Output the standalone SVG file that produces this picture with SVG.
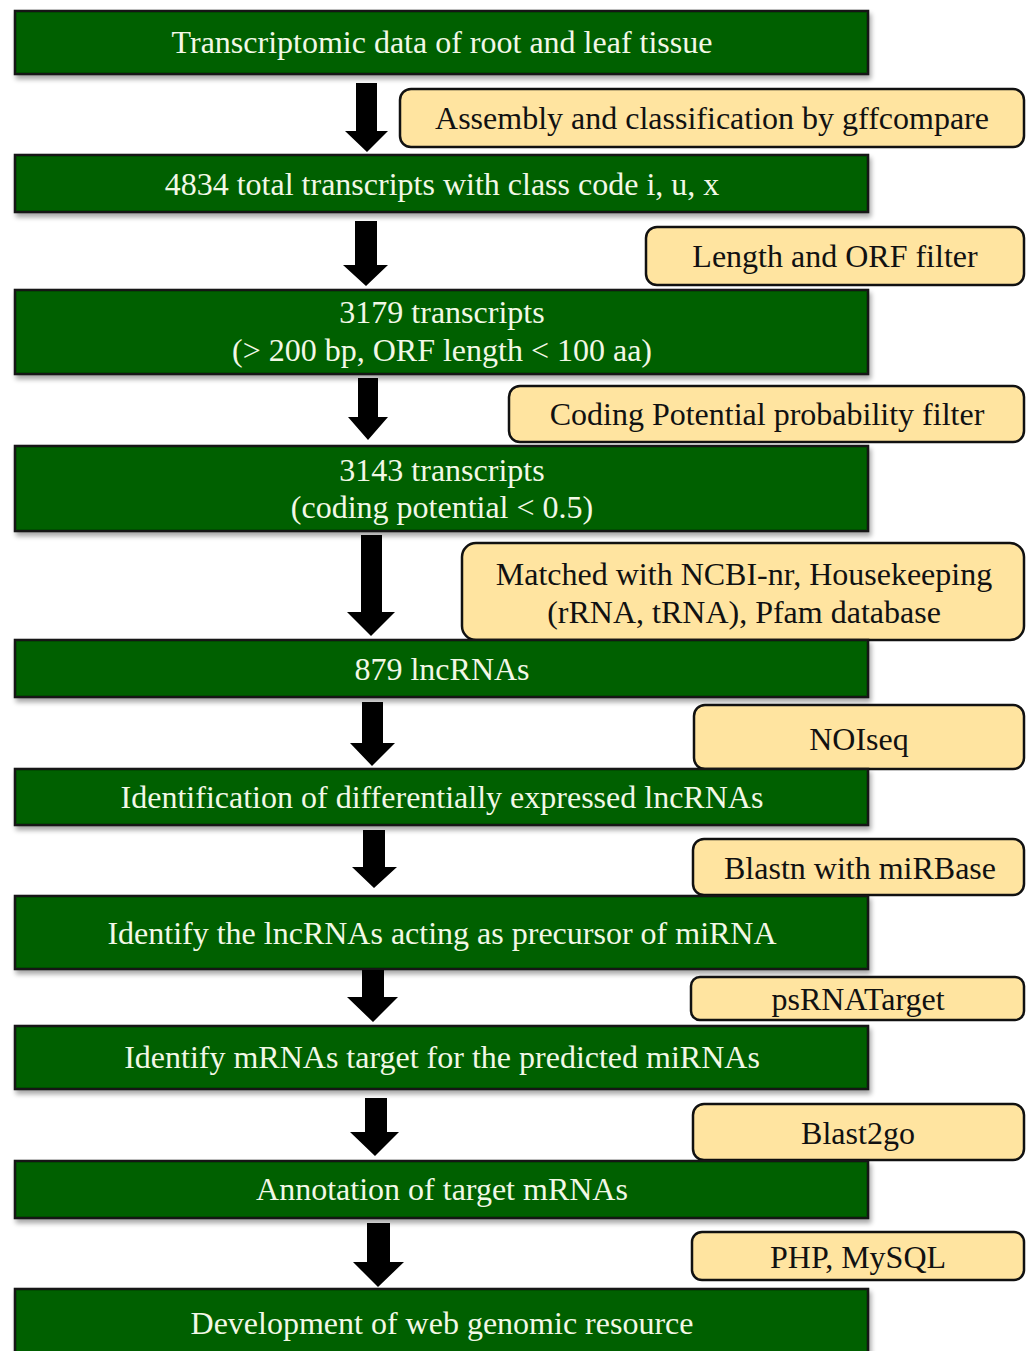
<svg xmlns="http://www.w3.org/2000/svg" width="1028" height="1351" viewBox="0 0 1028 1351">
<defs>
<style>
.g{fill:#006000;stroke:#141414;stroke-width:2.5;filter:url(#sh)}
.y{fill:#FFE4A0;stroke:#111;stroke-width:2.5}
.t{font-family:"Liberation Serif","Times New Roman",serif;font-size:32px;text-anchor:middle}
.tw{fill:#F2F8E6}
.tb{fill:#111}
.ar{fill:#000}
</style>
<filter id="sh" x="-5%" y="-20%" width="110%" height="150%">
<feGaussianBlur in="SourceAlpha" stdDeviation="2.5"/>
<feOffset dx="2" dy="4" result="b"/>
<feComponentTransfer><feFuncA type="linear" slope="0.35"/></feComponentTransfer>
<feMerge><feMergeNode/><feMergeNode in="SourceGraphic"/></feMerge>
</filter>
</defs>
<rect width="1028" height="1351" fill="#fff"/>

<g id="connectors">
<polygon class="ar" points="356,83 377,83 377,131 388,131 367,152 345,131 356,131"/>
<polygon class="ar" points="355,221 377,221 377,265 388,265 366,286 343,265 355,265"/>
<polygon class="ar" points="358,378 378,378 378,417 388,417 368,440 348,417 358,417"/>
<polygon class="ar" points="361,535 382,535 382,612 395,612 371,636 347,612 361,612"/>
<polygon class="ar" points="362,702 383,702 383,743 395,743 372,766 350,743 362,743"/>
<polygon class="ar" points="363,830 385,830 385,867 397,867 374,888 352,867 363,867"/>
<polygon class="ar" points="362,963 384,963 384,997 398,997 373,1022 347,997 362,997"/>
<polygon class="ar" points="365,1098 387,1098 387,1132 399,1132 375,1156 350,1132 365,1132"/>
<polygon class="ar" points="367,1223 390,1223 390,1262 404,1262 378,1287 353,1262 367,1262"/>
</g>

<g id="n1"><rect class="g" x="15" y="11" width="853" height="63"/><text class="t tw" x="442" y="53">Transcriptomic data of root and leaf tissue</text></g>
<g id="s1"><rect class="y" x="400" y="89" width="624" height="58" rx="11"/><text class="t tb" x="712" y="129">Assembly and classification by gffcompare</text></g>

<g id="n2"><rect class="g" x="15" y="155" width="853" height="57"/><text class="t tw" x="442" y="195">4834 total transcripts with class code i, u, x</text></g>
<g id="s2"><rect class="y" x="646" y="227" width="378" height="58" rx="11"/><text class="t tb" x="835" y="267">Length and ORF filter</text></g>

<g id="n3"><rect class="g" x="15" y="290" width="853" height="84"/><text class="t tw" x="442" y="323">3179 transcripts</text><text class="t tw" x="442" y="361">(&gt; 200 bp, ORF length &lt; 100 aa)</text></g>
<g id="s3"><rect class="y" x="509" y="386" width="515" height="56" rx="11"/><text class="t tb" x="767" y="425">Coding Potential probability filter</text></g>

<g id="n4"><rect class="g" x="15" y="446" width="853" height="85"/><text class="t tw" x="442" y="481">3143 transcripts</text><text class="t tw" x="442" y="518">(coding potential &lt; 0.5)</text></g>
<g id="s4"><rect class="y" x="462" y="543" width="562" height="97" rx="14"/><text class="t tb" x="744" y="585">Matched with NCBI-nr, Housekeeping</text><text class="t tb" x="744" y="623">(rRNA, tRNA), Pfam database</text></g>

<g id="n5"><rect class="g" x="15" y="640" width="853" height="57"/><text class="t tw" x="442" y="680">879 lncRNAs</text></g>
<g id="s5"><rect class="y" x="694" y="705" width="330" height="64" rx="11"/><text class="t tb" x="859" y="750">NOIseq</text></g>

<g id="n6"><rect class="g" x="15" y="769" width="853" height="56"/><text class="t tw" x="442" y="808">Identification of differentially expressed lncRNAs</text></g>
<g id="s6"><rect class="y" x="693" y="839" width="331" height="56" rx="11"/><text class="t tb" x="860" y="879">Blastn with miRBase</text></g>

<g id="n7"><rect class="g" x="15" y="896" width="853" height="73"/><text class="t tw" x="442" y="944">Identify the lncRNAs acting as precursor of miRNA</text></g>
<g id="s7"><rect class="y" x="691" y="977" width="333" height="43" rx="9"/><text class="t tb" x="858" y="1010">psRNATarget</text></g>

<g id="n8"><rect class="g" x="15" y="1026" width="853" height="63"/><text class="t tw" x="442" y="1068">Identify mRNAs target for the predicted miRNAs</text></g>
<g id="s8"><rect class="y" x="693" y="1104" width="331" height="56" rx="11"/><text class="t tb" x="858" y="1144">Blast2go</text></g>

<g id="n9"><rect class="g" x="15" y="1161" width="853" height="57"/><text class="t tw" x="442" y="1200">Annotation of target mRNAs</text></g>
<g id="s9"><rect class="y" x="692" y="1232" width="332" height="48" rx="10"/><text class="t tb" x="858" y="1268">PHP, MySQL</text></g>

<g id="n10"><rect class="g" x="15" y="1289" width="853" height="80"/><text class="t tw" x="442" y="1334">Development of web genomic resource</text></g>
</svg>
